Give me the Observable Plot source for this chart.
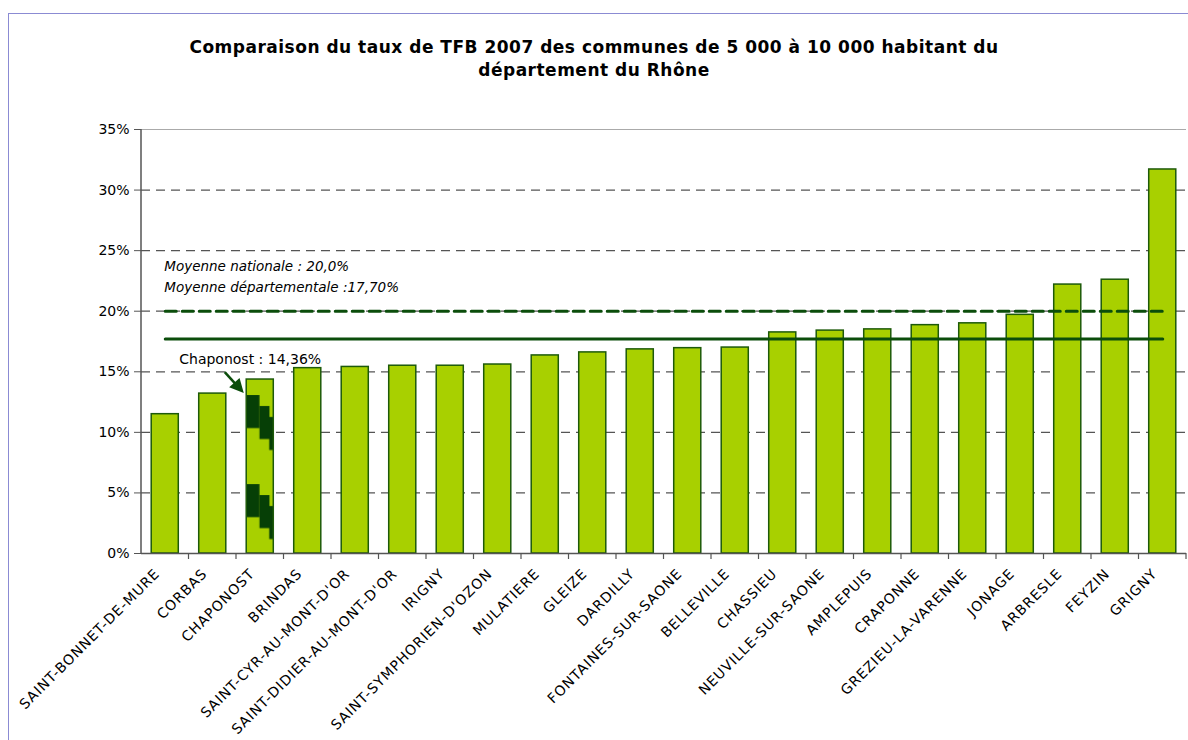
<!DOCTYPE html>
<html>
<head>
<meta charset="utf-8">
<script src="https://cdn.jsdelivr.net/npm/d3@7"></script>
<script src="https://cdn.jsdelivr.net/npm/@observablehq/plot@0.6"></script>
<style>
  html, body { margin: 0; padding: 0; background: #fff; overflow: hidden; }
  #wrap { position: relative; width: 1188px; height: 740px; font-family: "DejaVu Sans", sans-serif; }
  #border { position: absolute; left: 8px; top: 13px; width: 1300px; height: 900px; border: 1.5px solid #8b8bd3; box-sizing: border-box; }
  #title { position: absolute; left: 0; top: 36px; width: 1188px; text-align: center; font-weight: bold; font-size: 17px; letter-spacing: 0.5px; line-height: 23px; color: #000; }
  #chart { position: absolute; left: 0; top: 100px; width: 1188px; }
  #chart svg { max-width: none !important; }
</style>
</head>
<body>
<div id="wrap">
  <div id="border"></div>
  <div id="title">Comparaison du taux de TFB 2007 des communes de 5 000 à 10 000 habitant du<br>département du Rhône</div>
  <div id="chart"></div>
</div>
<script>
const communes = ["SAINT-BONNET-DE-MURE","CORBAS","CHAPONOST","BRINDAS","SAINT-CYR-AU-MONT-D'OR","SAINT-DIDIER-AU-MONT-D'OR","IRIGNY","SAINT-SYMPHORIEN-D'OZON","MULATIERE","GLEIZE","DARDILLY","FONTAINES-SUR-SAONE","BELLEVILLE","CHASSIEU","NEUVILLE-SUR-SAONE","AMPLEPUIS","CRAPONNE","GREZIEU-LA-VARENNE","JONAGE","ARBRESLE","FEYZIN","GRIGNY"];
const taux = [11.5, 13.2, 14.36, 15.3, 15.4, 15.5, 15.5, 15.6, 16.35, 16.6, 16.85, 16.95, 17.0, 18.25, 18.4, 18.5, 18.85, 19.0, 19.7, 22.2, 22.6, 31.7];
const moyenneNationale = 20.0;
const moyenneDepartementale = 17.70;
const yTicks = [0, 5, 10, 15, 20, 25, 30, 35];
const highlight = "CHAPONOST";
const labelNationale = "Moyenne nationale : 20,0%";
const labelDepartementale = "Moyenne départementale :17,70%";
const labelChaponost = "Chaponost : 14,36%";

const rows = communes.map((c, i) => ({commune: c, taux: taux[i]}));
const lineRows = communes.map(c => ({commune: c, nat: moyenneNationale, dep: moyenneDepartementale}));

const barFill = "#a8d000";
const barStroke = "#1d5a0a";
const lineColor = "#0b4d0b";

const chart = Plot.plot({
  width: 1188,
  height: 640,
  marginTop: 29,
  marginLeft: 141,
  marginRight: 2,
  marginBottom: 187,
  style: {fontFamily: "DejaVu Sans, sans-serif", fontSize: "14px", color: "#000", background: "transparent"},
  x: {domain: communes, paddingInner: 0.43, paddingOuter: 0.215, round: false, label: null},
  y: {domain: [0, 35], label: null},
  marks: [
    Plot.ruleY(yTicks.filter(d => d > 0 && d < 35), {stroke: "#555", strokeWidth: 1.2, strokeDasharray: "9,6"}),
    Plot.ruleY([35], {stroke: "#aaa", strokeWidth: 1.2}),
    Plot.barY(rows.filter(d => d.commune !== highlight), {x: "commune", y: "taux", fill: barFill, stroke: barStroke, strokeWidth: 1.5}),
    Plot.barY(rows.filter(d => d.commune === highlight), {x: "commune", y: "taux", fill: "url(#chapoPattern)", stroke: barStroke, strokeWidth: 1.5}),
    Plot.ruleY([0], {stroke: "#555", strokeWidth: 1.5}),
    Plot.lineY(lineRows, {x: "commune", y: "nat", stroke: lineColor, strokeWidth: 3, strokeDasharray: "11,6"}),
    Plot.lineY(lineRows, {x: "commune", y: "dep", stroke: lineColor, strokeWidth: 3}),
    Plot.text([labelNationale], {x: () => communes[0], y: () => moyenneNationale, text: d => d, textAnchor: "start", dx: -1, dy: -45, fontStyle: "italic", fontSize: 13.5}),
    Plot.text([labelDepartementale], {x: () => communes[0], y: () => moyenneNationale, text: d => d, textAnchor: "start", dx: -1, dy: -24, fontStyle: "italic", fontSize: 13.5}),
    Plot.text([labelChaponost], {x: () => highlight, y: () => taux[communes.indexOf(highlight)], text: d => d, textAnchor: "start", dx: -81, dy: -20, fontSize: 14}),
    Plot.axisY({ticks: yTicks, tickFormat: d => d + "%", tickSize: 7, tickPadding: 5, stroke: "#555"}),
    Plot.axisX({tickRotate: -45, tickSize: 0, tickPadding: 12, fontSize: 14, dx: -8, dy: 6})
  ]
});

document.getElementById("chart").appendChild(chart);

const sx = chart.scale("x");
const sy = chart.scale("y");
const svg = d3.select(chart);
svg.selectAll("g[aria-label='x-axis tick label'] text").style("letter-spacing", "0.9px");
const step = sx.bandwidth / (1 - 0.43);
const defs = svg.insert("defs", ":first-child");
const pat = defs.append("pattern").attr("id", "chapoPattern")
  .attr("patternUnits", "objectBoundingBox").attr("patternContentUnits", "objectBoundingBox")
  .attr("x", 0).attr("y", 0.092).attr("width", 1).attr("height", 0.512);
pat.append("rect").attr("x", 0).attr("y", 0).attr("width", 1).attr("height", 0.512).attr("fill", barFill);
pat.append("rect").attr("x", 0).attr("y", 0).attr("width", 0.49).attr("height", 0.19).attr("fill", "#063f06");
pat.append("rect").attr("x", 0.49).attr("y", 0.063).attr("width", 0.37).attr("height", 0.19).attr("fill", "#063f06");
pat.append("rect").attr("x", 0.85).attr("y", 0.126).attr("width", 0.15).attr("height", 0.19).attr("fill", "#063f06");

const g = svg.append("g");
const [y0, y35] = [sy.apply(0), sy.apply(35)];
const xLeft = sx.apply(communes[0]) - step * 0.43 / 2;
g.append("line").attr("x1", xLeft).attr("x2", xLeft).attr("y1", y35).attr("y2", y0).attr("stroke", "#555").attr("stroke-width", 1.5);
for (let k = 1; k <= communes.length; k++) {
  const bx = xLeft + k * step;
  g.append("line").attr("x1", bx).attr("x2", bx).attr("y1", y0).attr("y2", y0 + 6).attr("stroke", "#555").attr("stroke-width", 1.2);
}
const cx = sx.apply(highlight) + sx.bandwidth / 2;
const cy = sy.apply(taux[communes.indexOf(highlight)]);
const ax1 = cx - 35, ay1 = cy - 7, ax2 = cx - 16, ay2 = cy + 14;
const ang = Math.atan2(ay2 - ay1, ax2 - ax1);
g.append("line").attr("x1", ax1).attr("y1", ay1).attr("x2", ax2 - 10 * Math.cos(ang)).attr("y2", ay2 - 10 * Math.sin(ang)).attr("stroke", lineColor).attr("stroke-width", 2.5);
const hl = 14, hw = 7;
const bxh = ax2 - hl * Math.cos(ang), byh = ay2 - hl * Math.sin(ang);
g.append("polygon").attr("points", [
  [ax2, ay2],
  [bxh + hw * Math.sin(ang), byh - hw * Math.cos(ang)],
  [bxh - hw * Math.sin(ang), byh + hw * Math.cos(ang)]
].map(p => p.join(",")).join(" ")).attr("fill", lineColor);
</script>
</body>
</html>
